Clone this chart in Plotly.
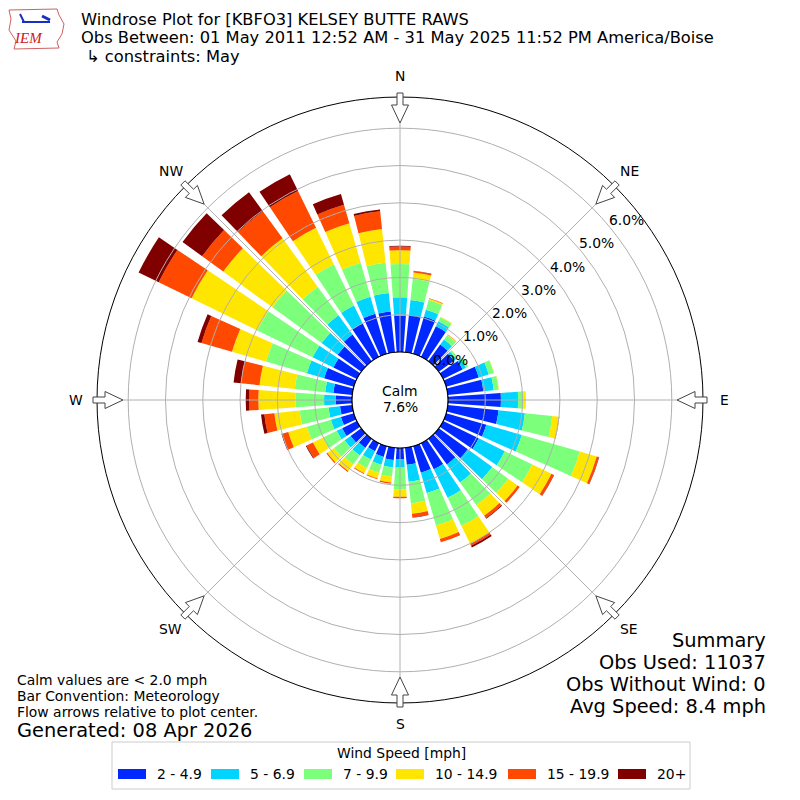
import math
import plotly.graph_objects as go

# ---------- DATA ----------
directions = [0, 10, 20, 30, 40, 50, 60, 70, 80, 90, 100, 110, 120, 130, 140, 150, 160, 170,
              180, 190, 200, 210, 220, 230, 240, 250, 260, 270, 280, 290, 300, 310, 320, 330, 340, 350]

# percent of observations per direction and speed bin
spd_2_5 = [0.97, 1.01, 1.04, 0.91, 0.55, 0.50, 0.58, 0.91, 0.96, 1.42, 1.37, 1.12, 1.06, 0.96, 0.85, 0.78, 0.74, 0.46,
           0.30, 0.33, 0.30, 0.24, 0.30, 0.35, 0.44, 0.36, 0.33, 0.44, 0.51, 0.83, 0.70, 0.78, 0.88, 1.00, 1.12, 1.10]
spd_5_7 = [0.50, 0.40, 0.19, 0.15, 0.17, 0.08, 0.10, 0.28, 0.28, 0.46, 0.71, 0.99, 0.78, 0.81, 0.60, 0.85, 0.57, 0.46,
           0.23, 0.20, 0.22, 0.25, 0.25, 0.20, 0.16, 0.28, 0.31, 0.31, 0.22, 0.48, 0.62, 0.53, 0.64, 0.53, 0.47, 0.50]
spd_7_10 = [0.89, 0.57, 0.27, 0.12, 0.14, 0.05, 0.06, 0.14, 0.13, 0.15, 0.74, 1.62, 0.82, 0.53, 0.75, 0.84, 0.90, 0.58,
            0.58, 0.25, 0.22, 0.25, 0.30, 0.35, 0.41, 0.67, 0.78, 0.76, 0.82, 1.14, 1.65, 1.63, 0.95, 1.23, 0.95, 0.81]
spd_10_15 = [0.37, 0.17, 0.04, 0.02, 0.02, 0.01, 0.01, 0.01, 0.01, 0.06, 0.18, 0.47, 0.57, 0.31, 0.35, 0.53, 0.38, 0.28,
             0.20, 0.16, 0.16, 0.16, 0.22, 0.22, 0.30, 0.52, 0.68, 1.00, 0.95, 0.95, 1.96, 1.63, 1.60, 1.09, 1.10, 0.91]
spd_15_20 = [0.10, 0.04, 0.01, 0.00, 0.01, 0.00, 0.00, 0.00, 0.00, 0.00, 0.01, 0.06, 0.07, 0.07, 0.08, 0.06, 0.09, 0.10,
             0.04, 0.03, 0.02, 0.02, 0.03, 0.03, 0.19, 0.17, 0.27, 0.25, 0.50, 0.85, 0.98, 0.70, 0.90, 1.10, 0.52, 0.48]
spd_20_up = [0.02, 0.01, 0.00, 0.00, 0.00, 0.00, 0.00, 0.00, 0.00, 0.00, 0.00, 0.01, 0.01, 0.00, 0.02, 0.05, 0.00, 0.01,
             0.00, 0.00, 0.00, 0.00, 0.00, 0.00, 0.02, 0.02, 0.09, 0.09, 0.20, 0.11, 0.60, 0.65, 0.63, 0.50, 0.30, 0.05]

bin_labels = ["2 - 4.9", "5 - 6.9", "7 - 9.9", "10 - 14.9", "15 - 19.9", "20+"]
bin_colors = ["#0028ff", "#00d4ff", "#7cff7a", "#ffe600", "#ff4800", "#800000"]
series = [spd_2_5, spd_5_7, spd_7_10, spd_10_15, spd_15_20, spd_20_up]

compass_angles = [0, 45, 90, 135, 180, 225, 270, 315]
compass_labels = ["N", "NE", "E", "SE", "S", "SW", "W", "NW"]
radial_ticks = [0, 1, 2, 3, 4, 5, 6]

calm_pct = 7.6
summary_lines = ["Summary", "Obs Used: 11037", "Obs Without Wind: 0", "Avg Speed: 8.4 mph"]
note_lines = ["Calm values are < 2.0 mph", "Bar Convention: Meteorology", "Flow arrows relative to plot center."]
title_lines = ["Windrose Plot for [KBFO3] KELSEY BUTTE RAWS",
               "Obs Between: 01 May 2011 12:52 AM - 31 May 2025 11:52 PM America/Boise",
               "↳ constraints: May"]

# ---------- GEOMETRY (pixels) ----------
W = 800
CX, CY = 400, 400
R_OUT = 303
R_HOLE = 48
PX_PER_PCT = 37.3
FONT = "DejaVu Sans"
GRID = "#b0b0b0"


def px(x):
    return x / W


def py(y):
    return 1 - y / W


def polar_px(r_px, bearing):
    t = math.radians(bearing)
    return CX + r_px * math.sin(t), CY - r_px * math.cos(t)


fig = go.Figure()

for vals, lab, col in zip(series, bin_labels, bin_colors):
    fig.add_trace(go.Barpolar(
        r=vals, theta=directions, width=8, name=lab,
        marker=dict(color=col, line=dict(width=0)),
        showlegend=False,
    ))

fig.update_layout(
    width=800, height=800,
    margin=dict(l=0, r=0, t=0, b=0),
    paper_bgcolor="white",
    font=dict(family=FONT, size=14, color="black"),
    polar=dict(
        domain=dict(x=[px(CX - R_OUT), px(CX + R_OUT)], y=[py(CY + R_OUT), py(CY - R_OUT)]),
        hole=R_HOLE / R_OUT,
        barmode="stack",
        bgcolor="white",
        radialaxis=dict(range=[0, (R_OUT - R_HOLE) / PX_PER_PCT], showgrid=False,
                        showline=False, ticks="", showticklabels=False),
        angularaxis=dict(direction="clockwise", rotation=90, showgrid=False, ticks="",
                         showticklabels=False, showline=True, linecolor="black", linewidth=1),
    ),
)

shapes = []
# grid drawn over the bars, like the original
for v in radial_ticks[1:]:
    rp = R_HOLE + v * PX_PER_PCT
    shapes.append(dict(type="circle", xref="paper", yref="paper",
                       x0=px(CX - rp), x1=px(CX + rp), y0=py(CY + rp), y1=py(CY - rp),
                       line=dict(color=GRID, width=1)))
for a in compass_angles:
    x0, y0 = polar_px(R_HOLE, a)
    x1, y1 = polar_px(R_OUT, a)
    shapes.append(dict(type="line", xref="paper", yref="paper",
                       x0=px(x0), y0=py(y0), x1=px(x1), y1=py(y1), line=dict(color=GRID, width=1)))

# calm circle
shapes.append(dict(type="circle", xref="paper", yref="paper",
                   x0=px(CX - R_HOLE), x1=px(CX + R_HOLE), y0=py(CY + R_HOLE), y1=py(CY - R_HOLE),
                   line=dict(color="black", width=1.2), fillcolor="white"))

# flow arrows on the rim
arrow_pts = [(307, 3), (295, 3), (295, 8.5), (277, 0), (295, -8.5), (295, -3), (307, -3)]
for a in compass_angles:
    t = math.radians(a)
    ux, uy = math.sin(t), -math.cos(t)
    vx, vy = math.cos(t), math.sin(t)
    path = ""
    for i, (rr, off) in enumerate(arrow_pts):
        x = CX + ux * rr + vx * off
        y = CY + uy * rr + vy * off
        path += ("M" if i == 0 else "L") + f"{px(x):.5f},{py(y):.5f} "
    shapes.append(dict(type="path", xref="paper", yref="paper", path=path + "Z",
                       fillcolor="white", line=dict(color="#444444", width=1)))

# legend box and patches
shapes.append(dict(type="rect", xref="paper", yref="paper",
                   x0=px(112), x1=px(690), y0=py(789), y1=py(742),
                   line=dict(color="#cccccc", width=1), fillcolor="white"))
patch_x = [118, 211, 304, 396, 508, 618]
for x0, col in zip(patch_x, bin_colors):
    shapes.append(dict(type="rect", xref="paper", yref="paper",
                       x0=px(x0), x1=px(x0 + 28), y0=py(779), y1=py(769),
                       line=dict(width=0), fillcolor=col))

# rough IEM logo: state outline, station glyph
logo = [(9, 10), (57, 9), (59, 15), (64, 24), (62, 34), (57, 42), (59, 48), (14, 49), (16, 41), (9, 30), (11, 19)]
lp = " ".join(("M" if i == 0 else "L") + f"{px(x):.5f},{py(y):.5f}" for i, (x, y) in enumerate(logo)) + " Z"
shapes.append(dict(type="path", xref="paper", yref="paper", path=lp,
                   line=dict(color="#d06060", width=1), fillcolor="rgba(0,0,0,0)"))
shapes.append(dict(type="line", xref="paper", yref="paper", x0=px(22), x1=px(50), y0=py(22), y1=py(22),
                   line=dict(color="#1a2fbf", width=2)))
shapes.append(dict(type="line", xref="paper", yref="paper", x0=px(20), x1=px(24), y0=py(14), y1=py(22),
                   line=dict(color="#1a2fbf", width=2)))
shapes.append(dict(type="line", xref="paper", yref="paper", x0=px(42), x1=px(50), y0=py(16), y1=py(20),
                   line=dict(color="#1a2fbf", width=3)))
fig.update_layout(shapes=shapes)

ann = []


def text(x, y, s, size, xanchor="left", **kw):
    ann.append(dict(x=px(x), y=py(y), xref="paper", yref="paper", text=s, showarrow=False, borderpad=0,
                    xanchor=xanchor, yanchor="middle", font=dict(size=size, family=FONT, color="black"), **kw))


text(80, 19, title_lines[0], 16.3)
text(80, 38, title_lines[1], 16.3)
text(85, 56, title_lines[2], 16.3)

# compass labels and radial percent labels
for a, lab in zip(compass_angles, compass_labels):
    x, y = polar_px(324, a)
    text(x, y, lab, 13.9, xanchor="center")
for v in radial_ticks:
    d = R_HOLE + v * PX_PER_PCT + 17
    t = math.radians(38.5)
    text(CX + d * math.cos(t), CY - d * math.sin(t), f"{v:.1f}%", 13.9, xanchor="center")

text(CX, 391, "Calm", 13.9, xanchor="center")
text(CX, 407, f"{calm_pct}%", 13.9, xanchor="center")
for i, s in enumerate(note_lines):
    text(16, 680 + 16 * i, s, 13.9)
text(16, 730, "Generated: 08 Apr 2026", 19.4)
for i, s in enumerate(summary_lines):
    text(767, 640 + 22 * i, s, 19.4, xanchor="right")
text(CX + 1, 753, "Wind Speed [mph]", 13.9, xanchor="center")
for x0, lab in zip(patch_x, bin_labels):
    text(x0 + 38, 774, lab, 13.9)
ann.append(dict(x=px(29), y=py(38), xref="paper", yref="paper", text="<i>IEM</i>", showarrow=False,
                xanchor="center", yanchor="middle",
                font=dict(size=15, family="Liberation Serif", color="#d02020")))
fig.update_layout(annotations=ann)

fig.write_html("out.html", config={"displayModeBar": False},
               post_script="document.body.style.margin='0px';")
